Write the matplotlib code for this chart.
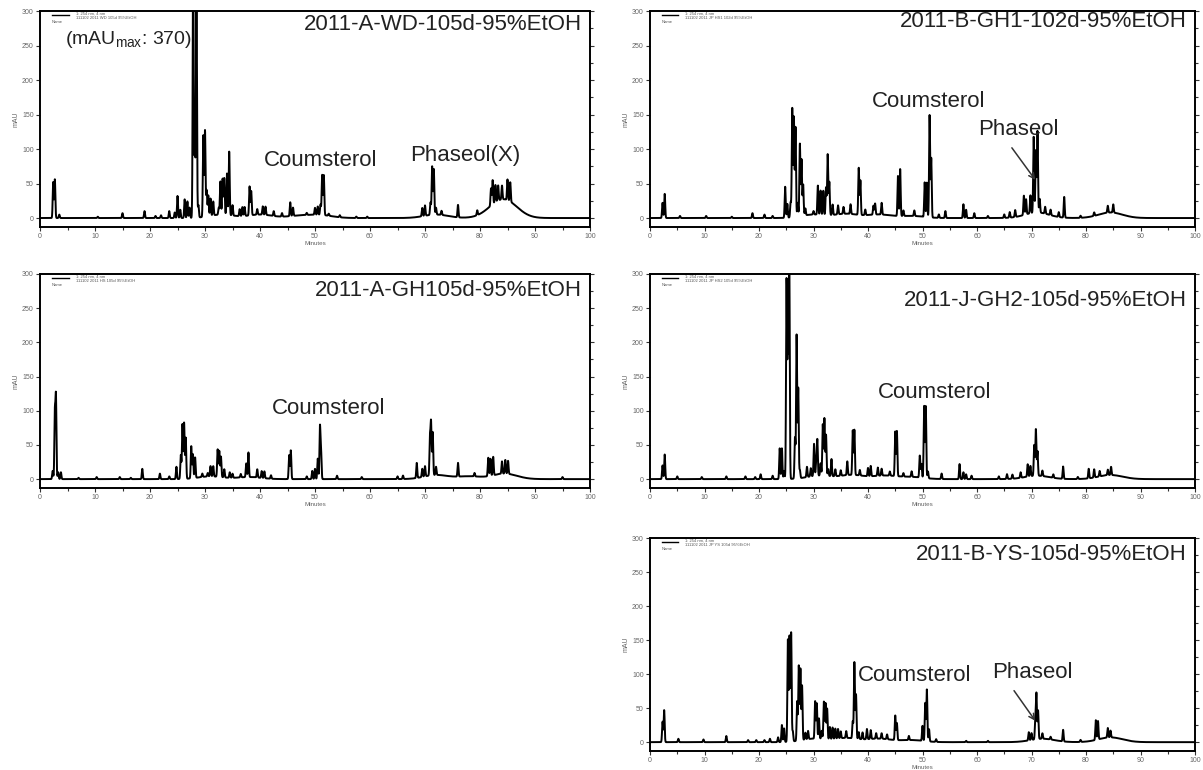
import numpy as np
import matplotlib
matplotlib.use("Agg")
import matplotlib.pyplot as plt
from matplotlib.ticker import MultipleLocator

plt.rcParams['font.family'] = ['Liberation Sans', 'DejaVu Sans']
plt.rcParams['mathtext.fontset'] = 'custom'
plt.rcParams['mathtext.rm'] = 'Liberation Sans'
plt.rcParams['mathtext.it'] = 'Liberation Sans'

# ---------------------------------------------------------------------------
# Peak tables (retention time in min, height in mAU) for each extract
# ---------------------------------------------------------------------------
wd_rt = [2.4, 2.7, 3.5, 10.5, 15.0, 19.0, 21.0, 22.0, 23.5, 24.5, 25.0, 25.5,
         26.3, 26.8, 27.2, 27.85, 28.15, 28.45, 28.8, 29.7, 30.0, 30.3, 30.6,
         31.0, 31.5, 32.5, 32.8, 33.2, 33.5, 34.0, 34.4, 35.0, 36.3, 36.8,
         37.2, 38.1, 38.4, 39.5, 40.5, 41.0, 42.5, 44.0, 45.5, 46.0, 48.5,
         50.0, 50.5, 51.0, 51.3, 51.6, 52.5, 54.5, 57.5, 59.5, 69.5, 70.0,
         71.0, 71.3, 71.6, 72.0, 73.0, 76.0, 79.5, 82.0, 82.3, 82.8, 83.3,
         84.0, 85.0, 85.5]
wd_h = [52, 56, 5, 2, 7, 10, 3, 4, 10, 8, 32, 12,
        27, 24, 15, 370, 110, 330, 18, 118, 125, 38, 30,
        25, 20, 10, 48, 52, 53, 60, 92, 15, 10, 13,
        13, 42, 35, 8, 12, 12, 7, 5, 20, 12, 3,
        10, 12, 15, 58, 58, 3, 3, 2, 2, 12, 15,
        18, 70, 66, 10, 6, 18, 7, 25, 35, 25, 22,
        20, 30, 28]
wd_hump_rt = [33.0, 40.0, 47.0, 51.0, 72.0, 83.0, 85.0]
wd_hump_h = [5, 5, 3, 4, 5, 12, 18]

gh1_rt = [2.3, 2.7, 5.5, 10.3, 15.0, 18.8, 21.0, 22.5, 24.8, 25.2, 25.8,
          26.1, 26.4, 26.7, 27.1, 27.5, 27.8, 28.1, 28.5, 30.0, 30.8, 31.3,
          31.8, 32.3, 32.6, 32.9, 33.5, 34.5, 35.5, 36.8, 38.3, 38.6, 39.5,
          41.0, 41.3, 42.5, 45.5, 45.9, 46.5, 48.5, 50.4, 50.8, 51.3, 51.6,
          53.0, 54.2, 57.5, 58.0, 59.5, 62.0, 65.0, 66.0, 67.0, 68.6, 69.0,
          69.8, 70.4, 70.8, 71.1, 71.5, 72.5, 73.5, 75.0, 76.0, 79.0, 81.5,
          84.0, 85.0]
gh1_h = [22, 35, 3, 3, 2, 7, 5, 3, 45, 20, 22,
         158, 145, 130, 20, 105, 82, 45, 10, 5, 42, 35,
         35, 40, 88, 48, 15, 13, 10, 14, 68, 50, 8,
         13, 16, 17, 58, 68, 8, 8, 50, 50, 148, 86,
         5, 10, 20, 12, 7, 3, 5, 8, 10, 28, 22,
         26, 110, 90, 118, 20, 10, 8, 7, 30, 3, 5,
         10, 12]
gh1_hump_rt = [30.0, 36.0, 42.0, 48.0, 71.0, 84.5]
gh1_hump_h = [5, 6, 5, 3, 8, 8]

gh_rt = [2.3, 2.7, 2.9, 3.3, 3.8, 7.0, 10.3, 14.5, 16.5, 18.6, 21.8, 23.5,
         24.8, 25.6, 25.9, 26.2, 26.5, 27.5, 27.8, 28.2, 29.5, 30.5, 31.0,
         31.5, 32.3, 32.6, 32.9, 33.5, 34.5, 35.0, 36.5, 37.5, 37.9, 39.5,
         40.3, 40.8, 42.0, 45.3, 45.6, 48.5, 49.5, 50.0, 50.5, 50.9, 51.1,
         54.0, 58.5, 65.0, 66.0, 68.5, 69.5, 70.0, 70.9, 71.1, 71.4, 72.0,
         76.0, 79.0, 81.5, 81.9, 82.4, 84.0, 84.6, 85.1, 95.0]
gh_h = [12, 95, 118, 10, 10, 2, 3, 3, 2, 15, 8, 4,
        18, 35, 80, 82, 60, 47, 35, 30, 5, 5, 15,
        15, 40, 38, 30, 12, 8, 6, 5, 20, 36, 12,
        10, 10, 5, 35, 42, 4, 12, 15, 30, 76, 40,
        5, 3, 4, 5, 22, 12, 15, 55, 76, 63, 12,
        20, 5, 27, 25, 27, 18, 20, 19, 3]
gh_hump_rt = [31.0, 38.0, 72.0, 78.0, 84.5]
gh_hump_h = [4, 3, 6, 4, 8]

gh2_rt = [2.3, 2.7, 5.0, 9.5, 14.0, 17.5, 19.3, 20.3, 22.5, 23.8, 24.2,
          24.6, 25.05, 25.3, 25.55, 26.6, 26.9, 27.2, 27.5, 28.8, 29.5, 30.1,
          30.5, 30.7, 31.3, 31.7, 32.0, 32.3, 32.7, 33.3, 34.0, 35.0, 36.2,
          37.2, 37.5, 38.5, 40.0, 40.5, 41.8, 42.5, 44.0, 45.0, 45.3, 46.5,
          48.0, 49.5, 49.8, 50.3, 50.6, 51.0, 53.5, 56.8, 57.5, 58.0, 59.0,
          64.0, 65.5, 66.5, 68.0, 69.3, 69.8, 70.5, 70.8, 71.1, 72.0, 74.0,
          75.8, 78.5, 80.5, 81.5, 82.5, 84.0, 84.6]
gh2_h = [20, 36, 4, 3, 4, 4, 3, 7, 5, 45, 45,
         12, 290, 190, 330, 60, 210, 132, 12, 15, 12, 47,
         20, 52, 18, 75, 84, 60, 10, 25, 10, 8, 20,
         65, 66, 8, 12, 15, 12, 10, 6, 65, 66, 5,
         8, 32, 20, 105, 105, 10, 8, 22, 10, 7, 5,
         4, 7, 6, 8, 18, 15, 45, 68, 36, 8, 5,
         18, 3, 14, 12, 8, 8, 12]
gh2_hump_rt = [31.0, 37.0, 43.0, 48.0, 71.0, 84.5]
gh2_hump_h = [5, 6, 5, 3, 5, 6]

ys_rt = [2.3, 2.6, 5.2, 9.8, 14.0, 18.0, 19.5, 21.0, 22.0, 23.5, 24.2, 24.6,
         25.3, 25.6, 25.9, 26.2, 27.0, 27.3, 27.6, 27.9, 28.5, 29.0, 30.3,
         30.6, 31.0, 31.5, 31.9, 32.2, 32.5, 33.0, 33.5, 34.0, 34.5, 35.0,
         36.0, 37.2, 37.5, 37.8, 38.3, 39.0, 39.8, 40.5, 41.5, 42.5, 43.5,
         45.0, 45.3, 47.5, 50.0, 50.5, 50.8, 51.2, 52.5, 58.0, 62.0, 69.5,
         70.0, 70.7, 70.9, 71.2, 72.0, 73.5, 75.8, 79.0, 81.8, 82.2, 84.0,
         84.5]
ys_h = [30, 47, 5, 4, 9, 3, 3, 3, 5, 7, 25, 20,
        150, 155, 160, 15, 58, 110, 105, 80, 10, 12, 55,
        52, 30, 12, 55, 53, 45, 18, 17, 15, 14, 10,
        10, 25, 112, 65, 10, 10, 15, 13, 8, 8, 7,
        36, 25, 6, 22, 56, 76, 18, 4, 2, 2, 12,
        10, 28, 66, 42, 8, 4, 17, 3, 29, 27, 14,
        10]
ys_hump_rt = [30.0, 36.0, 42.0, 48.0, 72.0, 84.5]
ys_hump_h = [5, 6, 5, 3, 5, 7]

sample_titles = ["2011-A-WD-105d-95%EtOH", "2011-B-GH1-102d-95%EtOH",
                 "2011-A-GH105d-95%EtOH", "2011-J-GH2-105d-95%EtOH",
                 "2011-B-YS-105d-95%EtOH"]
sample_files = ["111102 2011 WD 105d 95%EtOH", "111102 2011 JP HS1 102d 95%EtOH",
                "111102 2011 HS 105d 95%EtOH", "111102 2011 JP HS2 105d 95%EtOH",
                "111102 2011 JP YS 105d 95%EtOH"]

minutes = np.arange(0, 100.001, 0.01)


def trace(rt, h, hump_rt, hump_h):
    sig = 0.09
    y = np.zeros_like(minutes)
    for r, a in zip(rt, h):
        y += a * np.exp(-0.5 * ((minutes - r) / sig) ** 2)
    for r, a in zip(hump_rt, hump_h):
        y += a * np.exp(-0.5 * ((minutes - r) / 2.2) ** 2)
    return y


fig = plt.figure(figsize=(12.03, 7.70), dpi=100)
W, H = 1203.0, 770.0


def make_ax(left, top, right, bottom):
    return fig.add_axes([left / W, 1 - bottom / H, (right - left) / W, (bottom - top) / H])


axes = [make_ax(40, 11, 590, 227), make_ax(650, 11, 1195, 227),
        make_ax(40, 274, 590, 488), make_ax(650, 274, 1195, 488),
        make_ax(650, 538, 1195, 751)]

data = [(wd_rt, wd_h, wd_hump_rt, wd_hump_h),
        (gh1_rt, gh1_h, gh1_hump_rt, gh1_hump_h),
        (gh_rt, gh_h, gh_hump_rt, gh_hump_h),
        (gh2_rt, gh2_h, gh2_hump_rt, gh2_hump_h),
        (ys_rt, ys_h, ys_hump_rt, ys_hump_h)]

title_y = [280, 285, 276, 261, 276]
txt_col = '#222222'

for ax, d, title, fname, ty in zip(axes, data, sample_titles, sample_files, title_y):
    ax.plot(minutes, trace(*d), color='black', lw=1.4)
    ax.set_xlim(0, 100)
    ax.set_ylim(-13, 300)
    for s in ax.spines.values():
        s.set_linewidth(1.4)
        s.set_color('black')
    ax.xaxis.set_major_locator(MultipleLocator(10))
    ax.xaxis.set_minor_locator(MultipleLocator(5))
    ax.yaxis.set_major_locator(MultipleLocator(50))
    ax.yaxis.set_minor_locator(MultipleLocator(25))
    ax.tick_params(axis='both', which='both', direction='out', labelsize=5,
                   labelcolor='#666666', color='#333333', width=0.8, pad=1.5)
    ax.tick_params(axis='both', which='major', length=3)
    ax.tick_params(axis='both', which='minor', length=2)
    ax.tick_params(axis='y', which='minor', left=False)
    ax.tick_params(axis='y', which='both', right=True)
    ax.set_xlabel('Minutes', fontsize=4.5, color='#666666', labelpad=0.5)
    ax.set_ylabel('mAU', fontsize=5, color='#666666', labelpad=2)
    ax.text(98.5, ty, title, ha='right', va='center', fontsize=16, color=txt_col)
    # instrument legend block
    ax.plot([2.2, 5.2], [294, 294], color='black', lw=1.0)
    ax.text(6.5, 296, '1: 254 nm, 4 nm', fontsize=3, color='#555555', va='center')
    ax.text(6.5, 290, fname, fontsize=3, color='#555555', va='center')
    ax.text(2.2, 284, 'Name', fontsize=3, color='#555555', va='center')

ax1, ax2, ax3, ax4, ax5 = axes
ax1.text(4.5, 258, r'(mAU$_{\mathrm{max}}$: 370)', fontsize=14, color=txt_col, va='center')
ax1.text(51.1, 84, 'Coumsterol', ha='center', va='center', fontsize=16, color=txt_col)
ax1.text(77.3, 90, 'Phaseol(X)', ha='center', va='center', fontsize=16, color=txt_col)

ax2.text(51.2, 169, 'Coumsterol', ha='center', va='center', fontsize=16, color=txt_col)
ax2.text(67.6, 128, 'Phaseol', ha='center', va='center', fontsize=16, color=txt_col)
ax2.annotate('', xy=(71.0, 52), xytext=(66.1, 105),
             arrowprops=dict(arrowstyle='->', color='#333333', lw=1.1))

ax3.text(52.4, 104, 'Coumsterol', ha='center', va='center', fontsize=16, color=txt_col)

ax4.text(52.3, 126, 'Coumsterol', ha='center', va='center', fontsize=16, color=txt_col)

ax5.text(38.2, 98, 'Coumsterol', ha='left', va='center', fontsize=16, color=txt_col)
ax5.text(70.1, 103, 'Phaseol', ha='center', va='center', fontsize=16, color=txt_col)
ax5.annotate('', xy=(71.0, 28), xytext=(66.5, 79),
             arrowprops=dict(arrowstyle='->', color='#333333', lw=1.1))

fig.savefig('out.png', dpi=100)
